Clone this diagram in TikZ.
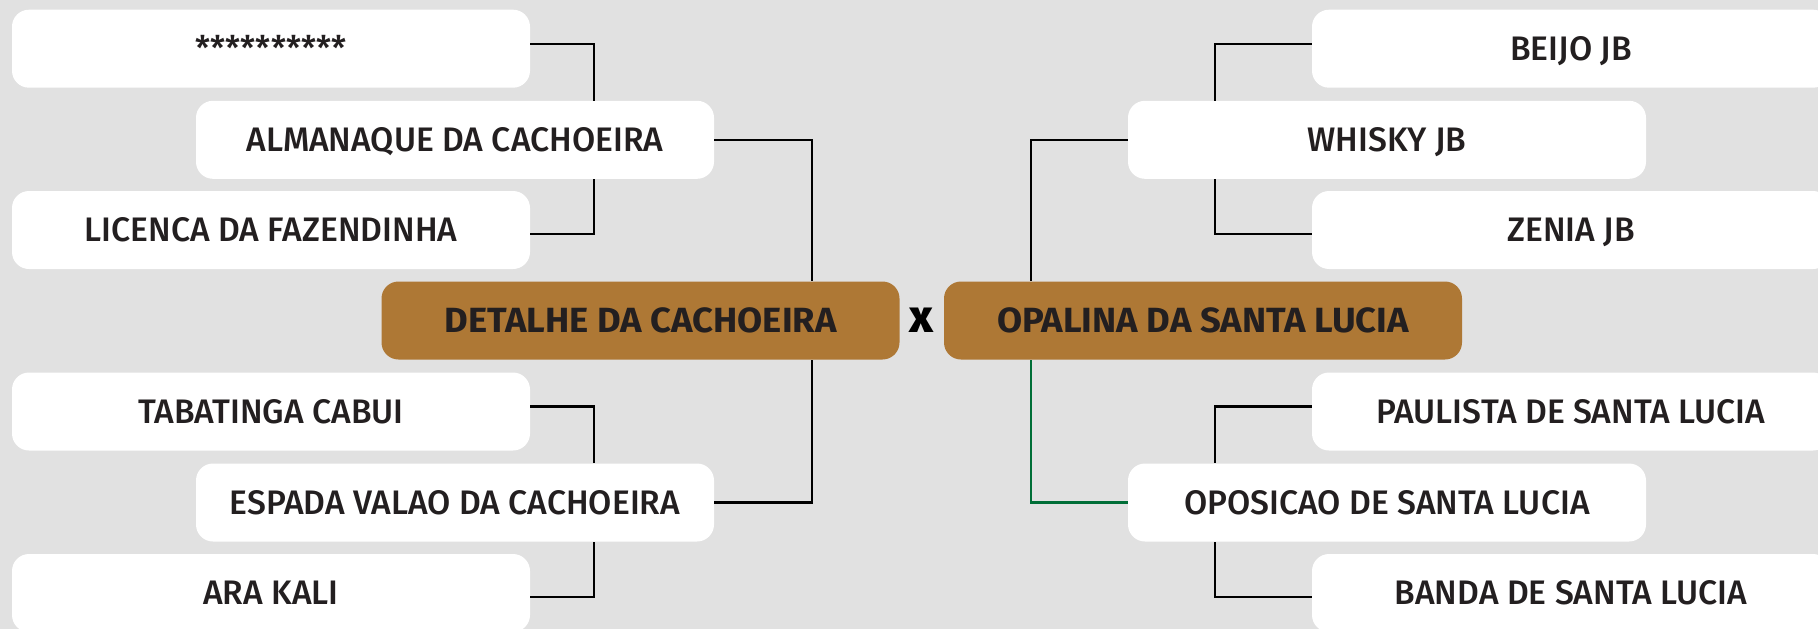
\documentclass[tikz,border=0pt]{standalone}
\usepackage{fontspec}
\setmainfont{Fira Sans}[UprightFont=* Medium, BoldFont=* Bold, FakeStretch=0.99]
\newfontfamily\centerfont{Fira Sans}[UprightFont=* Bold, FakeStretch=1.04]
\newfontfamily\vsfont{Fira Sans}[UprightFont=* ExtraBold]
\definecolor{bg}{RGB}{225,225,225}
\definecolor{brownbox}{RGB}{174,120,53}
\definecolor{txt}{RGB}{35,31,32}
\definecolor{greenline}{RGB}{0,110,55}
\tikzset{
  team/.style={rectangle, rounded corners=17pt, fill=white, minimum width=518pt, minimum height=78pt, inner sep=0pt, text=txt, text height=23.5pt, text depth=0pt, font=\fontsize{34}{34}\selectfont},
  finalist/.style={team, fill=brownbox, text height=24pt, font=\centerfont\fontsize{35}{35}\selectfont},
  link/.style={line width=2.4pt, draw=black},
}
\begin{document}
\begin{tikzpicture}[x=1pt,y=-1pt]
\fill[bg] (0,0) rectangle (1818,629);
\useasboundingbox (0,0) rectangle (1818,629);
% left side
\node[team] (l1) at (271,48.7) {**********};
\node[team] (l2) at (455,139.8) {ALMANAQUE DA CACHOEIRA};
\node[team] (l3) at (271,230) {LICENCA DA FAZENDINHA};
\node[team] (l4) at (271,411.5) {TABATINGA CABUI};
\node[team] (l5) at (455,502.5) {ESPADA VALAO DA CACHOEIRA};
\node[team] (l6) at (271,593) {ARA KALI};
\node[finalist] (cl) at (640.5,320.5) {DETALHE DA CACHOEIRA};
\node[finalist] (cr) at (1203,320.5) {OPALINA DA SANTA LUCIA};
\node[font=\vsfont\fontsize{46}{46}\selectfont, text=black, inner sep=0pt] (vs) at (921,320) {x};
% right side
\node[team] (r1) at (1571,48.7) {BEIJO JB};
\node[team] (r2) at (1387,139.8) {WHISKY JB};
\node[team] (r3) at (1571,230) {ZENIA JB};
\node[team] (r4) at (1571,411.5) {PAULISTA DE SANTA LUCIA};
\node[team] (r5) at (1387,502.5) {OPOSICAO DE SANTA LUCIA};
\node[team] (r6) at (1571,593) {BANDA DE SANTA LUCIA};
% junction columns
\coordinate (ja) at (594,0);
\coordinate (jb) at (812,0);
\coordinate (jc) at (1031,0);
\coordinate (jd) at (1215,0);
% left connectors
\draw[link] ([yshift=5pt]l1.east) -| (ja |- l2.north);
\draw[link] ([yshift=-4pt]l3.east) -| (ja |- l2.south);
\draw[link] ([yshift=5pt]l4.east) -| (ja |- l5.north);
\draw[link] ([yshift=-4pt]l6.east) -| (ja |- l5.south);
\draw[link] (l2.east) -| (jb |- cl.north);
\draw[link] (l5.east) -| (jb |- cl.south);
% right connectors
\draw[link] ([yshift=5pt]r1.west) -| (jd |- r2.north);
\draw[link] ([yshift=-4pt]r3.west) -| (jd |- r2.south);
\draw[link] ([yshift=5pt]r4.west) -| (jd |- r5.north);
\draw[link] ([yshift=-4pt]r6.west) -| (jd |- r5.south);
\draw[link] (r2.west) -| (jc |- cr.north);
\draw[link, draw=greenline] (r5.west) -| (jc |- cr.south);
\end{tikzpicture}
\end{document}
